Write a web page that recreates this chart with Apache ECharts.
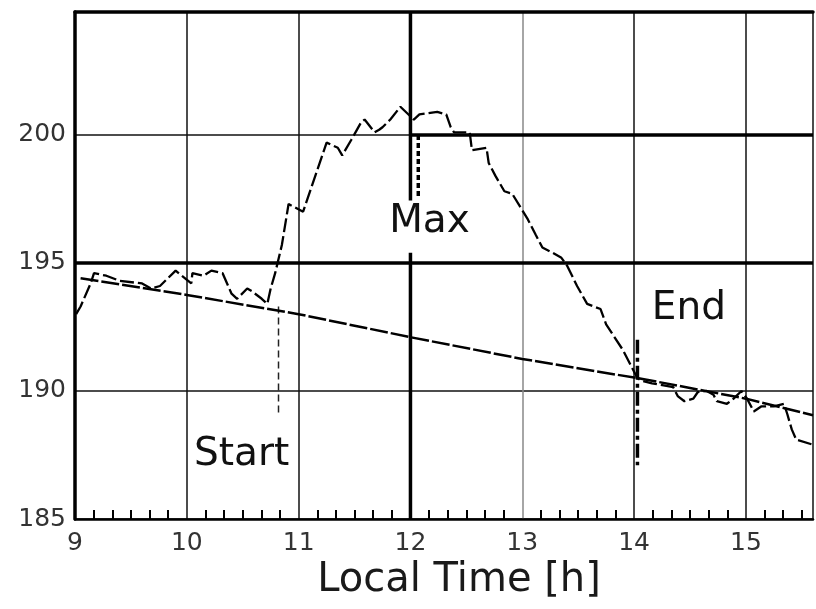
<!DOCTYPE html>
<html>
<head>
<meta charset="utf-8">
<script src="https://cdn.jsdelivr.net/npm/echarts@6/dist/echarts.min.js"></script>
<style>
html,body{margin:0;padding:0;background:#fff;}
#chart{width:816px;height:609px;}
</style>
</head>
<body>
<div id="chart"></div>
<script>
// ---- data ----
const curveTime = [9.01,9.05,9.14,9.17,9.28,9.40,9.60,9.68,9.76,9.90,10.04,10.05,10.15,10.22,10.32,10.36,10.40,10.45,10.54,10.58,10.67,10.72,10.75,10.79,10.85,10.91,11.04,11.25,11.35,11.39,11.47,11.56,11.59,11.68,11.72,11.75,11.82,11.91,12.03,12.08,12.24,12.32,12.36,12.39,12.49,12.53,12.55,12.68,12.70,12.76,12.84,12.91,13.05,13.12,13.18,13.27,13.35,13.40,13.49,13.58,13.70,13.75,13.90,14.03,14.07,14.16,14.35,14.39,14.45,14.53,14.57,14.65,14.71,14.74,14.83,14.89,14.96,15.01,15.07,15.14,15.25,15.34,15.37,15.41,15.45,15.60];
const curveValue = [193.0,193.3,194.2,194.6,194.5,194.3,194.2,194.0,194.1,194.7,194.2,194.6,194.5,194.7,194.6,194.2,193.8,193.6,194.0,193.9,193.6,193.4,194.0,194.6,195.7,197.3,197.0,199.7,199.5,199.2,199.8,200.5,200.6,200.1,200.2,200.3,200.6,201.1,200.6,200.8,200.9,200.8,200.3,200.1,200.1,200.1,199.4,199.5,198.9,198.4,197.8,197.7,196.7,196.1,195.6,195.4,195.2,194.9,194.1,193.4,193.2,192.6,191.6,190.5,190.4,190.3,190.15,189.8,189.6,189.7,189.96,190.0,189.85,189.6,189.5,189.7,190.0,189.7,189.2,189.4,189.4,189.5,189.1,188.5,188.1,187.9];
const baseTime = [9.05,10.0,11.0,12.0,13.0,14.1,15.0,15.6];
const baseValue = [194.4,193.75,193.0,192.1,191.25,190.45,189.7,189.05];

const xTicks = [9,10,11,12,13,14,15];
const yTicks = [185,190,195,200];

// thick reference lines: [value, from, to]
const thickHorizontal = [[195, 9, 15.6], [200, 12, 15.6]];
// thick vertical marker at 12 h (two pieces around the "Max" label)
const maxThick = [[12, 204.8, 197.4], [12, 195.4, 185]];
const maxDashed = [12.07, 200.0, 197.5];
const startDashed = [10.82, 193.3, 189.0];
const endDashDot = [14.03, 192.0, 187.1];

const annotations = [
  {name: 'Start', x: 10.49, y: 187.5},
  {name: 'Max', x: 12.17, y: 196.6},
  {name: 'End', x: 14.49, y: 193.2}
];

// ---- chart ----
const font = 'DejaVu Sans';
const chart = echarts.init(document.getElementById('chart'));

function vseg(x, y1, y2){ return [[x, y1], [x, y2]]; }

const series = [];
thickHorizontal.forEach(h => {
  series.push({type:'line', data:[[h[1],h[0]],[h[2],h[0]]], symbol:'none', silent:true,
    lineStyle:{color:'#000', width:3.5}, z:3});
});
maxThick.forEach(m => {
  series.push({type:'line', data:vseg(m[0], m[1], m[2]), symbol:'none', silent:true,
    lineStyle:{color:'#000', width:3.5}, z:3});
});
series.push({type:'line', data:vseg(maxDashed[0], maxDashed[1], maxDashed[2]), symbol:'none',
  lineStyle:{color:'#000', width:3.5, type:[5,3]}, z:4});
series.push({type:'line', data:vseg(startDashed[0], startDashed[1], startDashed[2]), symbol:'none',
  lineStyle:{color:'#222', width:1.5, type:[7,4]}, z:4});
series.push({type:'line', data:vseg(endDashDot[0], endDashDot[1], endDashDot[2]), symbol:'none',
  lineStyle:{color:'#000', width:3.5, type:[14,4,4,4]}, z:4});
series.push({type:'line', name:'baseline', data: baseTime.map((t,i)=>[t, baseValue[i]]), symbol:'none',
  lineStyle:{color:'#000', width:2.5, type:[18,3]}, z:5});
series.push({type:'line', name:'curve', data: curveTime.map((t,i)=>[t, curveValue[i]]), symbol:'none',
  lineStyle:{color:'#000', width:2.3, type:[14,4]}, z:6});
series.push({type:'scatter', data: annotations.map(a => ({name:a.name, value:[a.x, a.y]})),
  symbolSize:0, z:10, itemStyle:{opacity:1},
  label:{show:true, position:'inside', formatter: p => p.name, color:'#111', opacity:1,
    textBorderWidth:0, fontFamily:font, fontSize:39, backgroundColor:'#fff', padding:[2,0,2,0]}});

chart.setOption({
  animation:false,
  backgroundColor:'#fff',
  grid:{left:75, right:0, top:12, bottom:90, containLabel:false},
  xAxis:[{
    type:'value', min:9, max:15.6, interval:1,
    axisLine:{show:true, lineStyle:{color:'#000', width:2.5}},
    axisTick:{show:false, inside:true},
    minorTick:{show:true, splitNumber:6, length:9, lineStyle:{color:'#000', width:2}},
    axisLabel:{fontFamily:font, fontSize:25, color:'#333', margin:12,
      formatter: v => xTicks.includes(v) ? String(v) : ''},
    splitLine:{show:true, lineStyle:{width:1.5,
      color:['#000','#111','#111','rgba(0,0,0,0)','#888','#111','#111','#111']}},
    name:'Local Time [h]', nameLocation:'middle', nameGap:40,
    nameTextStyle:{fontFamily:font, fontSize:40, color:'#1a1a1a', padding:[0,0,0,30]}
  },{
    type:'value', min:9, max:15.6, position:'top',
    axisLine:{show:true, lineStyle:{color:'#000', width:3.5}},
    axisTick:{show:false}, axisLabel:{show:false}, splitLine:{show:false}
  }],
  yAxis:{
    type:'value', min:185, max:204.8, interval:5,
    axisLine:{show:true, lineStyle:{color:'#000', width:3.5}},
    axisTick:{show:false},
    axisLabel:{fontFamily:font, fontSize:25, color:'#333', margin:9,
      formatter: v => yTicks.includes(v) ? String(v) : ''},
    splitLine:{show:true, lineStyle:{color:'#111', width:1.5}}
  },
  series: series
});
</script>
</body>
</html>
